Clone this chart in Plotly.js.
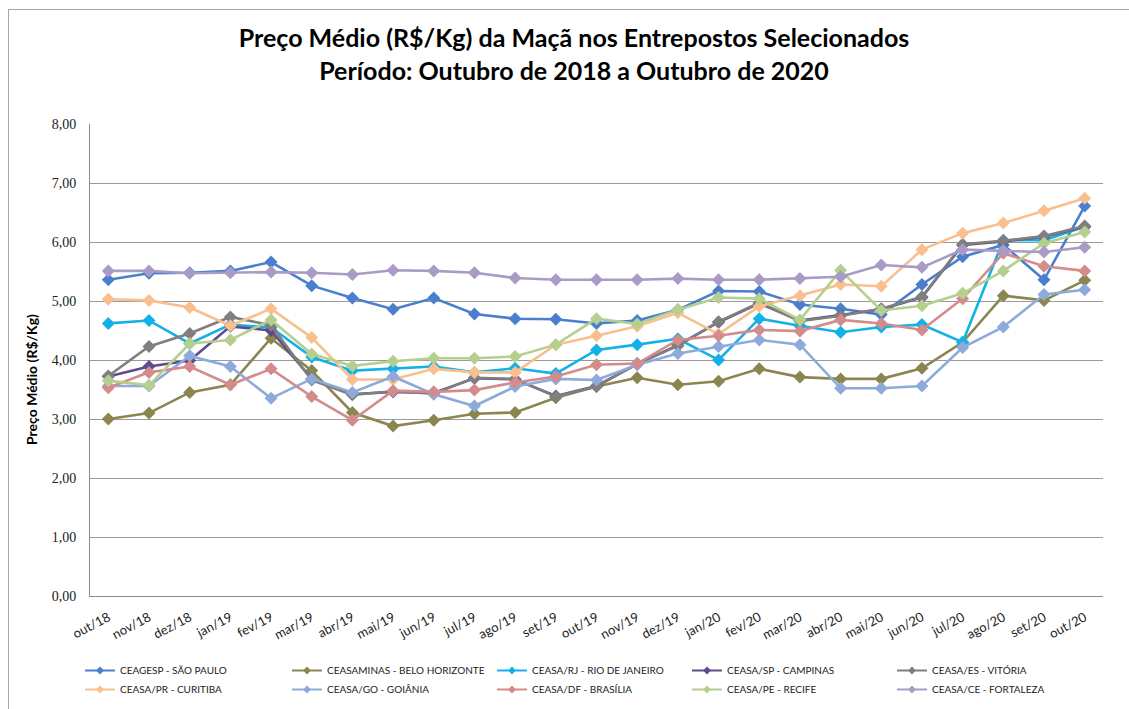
<!DOCTYPE html>
<html>
<head>
<meta charset="utf-8">
<script src="https://cdn.plot.ly/plotly-3.0.1.min.js"></script>
<style>
  html, body { margin: 0; padding: 0; background: #fff; }
  #wrap { position: relative; width: 1129px; height: 709px; overflow: hidden; }
  #frame { position: absolute; left: 8px; top: 9px; width: 1200px; height: 800px; border-left: 1px solid #a6a6a6; border-top: 1px solid #a6a6a6; pointer-events: none; z-index: 5; }
  #chart { position: absolute; left: 0; top: 0; width: 1129px; height: 709px; }
</style>
</head>
<body>
<div id="wrap">
  <div id="chart"></div>
  <div id="frame"></div>
</div>
<script>
const months = ['out/18','nov/18','dez/18','jan/19','fev/19','mar/19','abr/19','mai/19','jun/19','jul/19','ago/19','set/19','out/19','nov/19','dez/19','jan/20','fev/20','mar/20','abr/20','mai/20','jun/20','jul/20','ago/20','set/20','out/20'];

const seriesNames = ['CEAGESP - SÃO PAULO','CEASAMINAS - BELO HORIZONTE','CEASA/RJ - RIO DE JANEIRO','CEASA/SP - CAMPINAS','CEASA/ES - VITÓRIA','CEASA/PR - CURITIBA','CEASA/GO - GOIÂNIA','CEASA/DF - BRASÍLIA','CEASA/PE - RECIFE','CEASA/CE - FORTALEZA'];

const ceagesp   = [5.36,5.47,5.48,5.51,5.66,5.26,5.05,4.86,5.05,4.78,4.70,4.69,4.62,4.67,4.85,5.17,5.16,4.94,4.87,4.77,5.28,5.75,5.95,5.36,6.61];
const bh        = [3.00,3.10,3.45,3.58,4.37,3.82,3.11,2.88,2.98,3.09,3.11,3.36,3.55,3.70,3.58,3.64,3.85,3.71,3.68,3.68,3.86,4.30,5.09,5.01,5.35];
const rj        = [4.62,4.67,4.28,4.60,4.55,4.05,3.82,3.85,3.89,3.79,3.86,3.77,4.17,4.26,4.36,4.00,4.70,4.58,4.47,4.56,4.60,4.30,6.03,6.03,6.26];
const campinas  = [3.72,3.89,3.99,4.57,4.50,3.68,3.42,3.46,3.44,3.69,3.67,3.39,3.56,3.93,4.25,4.64,4.96,4.67,4.76,4.86,5.06,5.95,6.01,6.09,6.26];
const vitoria   = [3.73,4.23,4.45,4.73,4.59,3.66,3.41,3.47,3.43,3.70,3.68,3.38,3.55,3.94,4.24,4.65,4.97,4.66,4.75,4.87,5.07,5.96,6.02,6.10,6.27];
const curitiba  = [5.03,5.01,4.89,4.58,4.87,4.38,3.67,3.67,3.85,3.79,3.79,4.26,4.41,4.57,4.80,4.44,4.91,5.09,5.28,5.25,5.87,6.15,6.32,6.53,6.74];
const goiania   = [3.56,3.56,4.07,3.89,3.35,3.68,3.45,3.72,3.42,3.22,3.55,3.68,3.66,3.92,4.11,4.23,4.34,4.26,3.52,3.52,3.56,4.21,4.56,5.11,5.19];
const brasilia  = [3.53,3.79,3.89,3.58,3.85,3.38,2.98,3.48,3.46,3.49,3.62,3.72,3.92,3.94,4.34,4.41,4.51,4.49,4.68,4.62,4.51,5.04,5.81,5.59,5.51];
const recife    = [3.65,3.57,4.28,4.34,4.68,4.10,3.90,3.98,4.03,4.03,4.06,4.26,4.70,4.61,4.85,5.06,5.04,4.68,5.52,4.84,4.92,5.13,5.51,5.98,6.17];
const fortaleza = [5.51,5.51,5.47,5.48,5.49,5.48,5.45,5.52,5.51,5.48,5.39,5.36,5.36,5.36,5.38,5.36,5.36,5.38,5.41,5.61,5.57,5.87,5.85,5.83,5.91];

const yTicks = [0,1,2,3,4,5,6,7,8];
const yTickText = ['0,00','1,00','2,00','3,00','4,00','5,00','6,00','7,00','8,00'];

const seriesValues = [ceagesp, bh, rj, campinas, vitoria, curitiba, goiania, brasilia, recife, fortaleza];
const colors = ['#4a7fd0','#8b8650','#14b1e7','#5f4a8b','#7f7f7f','#f9bf8f','#8eaadb','#d38b8b','#b5cf8e','#a99bc6'];
const legendOf = ['legend','legend2','legend3','legend4','legend5','legend','legend2','legend3','legend4','legend5'];

const traces = seriesValues.map((vals, i) => ({
  type: 'scatter',
  mode: 'lines+markers',
  name: seriesNames[i],
  x: months,
  y: vals,
  line: {color: colors[i], width: 2.6},
  marker: {symbol: 'diamond', size: 10, color: colors[i]},
  showlegend: false
}));

// legend-only entries (smaller symbols, as in the original legend)
const legendTraces = seriesNames.map((nm, i) => ({
  type: 'scatter',
  mode: 'lines+markers',
  name: nm,
  x: [null],
  y: [null],
  line: {color: colors[i], width: 2},
  marker: {symbol: 'diamond', size: 6, color: colors[i]},
  legend: legendOf[i],
  legendrank: i,
  showlegend: true
}));

const legFont = {family: 'Lato, "Open Sans", sans-serif', size: 10, color: '#222'};
function leg(xpx) {
  return {
    xref: 'container', yref: 'container',
    x: xpx / 1129, y: 1 - 656 / 709,
    xanchor: 'left', yanchor: 'top',
    orientation: 'v',
    font: legFont,
    bgcolor: 'rgba(0,0,0,0)',
    itemwidth: 30,
    tracegroupgap: 0
  };
}

// plot area in pixels: x 90..1103, y 124..596
const plotL = 90, plotR = 1103, plotT = 124, plotB = 596;

const layout = {
  width: 1129, height: 709,
  paper_bgcolor: '#ffffff',
  plot_bgcolor: '#ffffff',
  margin: {l: plotL, r: 1129 - plotR, t: plotT, b: 709 - plotB, autoexpand: false},
  title: {
    text: '<b>Preço Médio (R$/Kg) da Maçã nos Entrepostos Selecionados<br>Período: Outubro de 2018 a Outubro de 2020</b>',
    font: {family: 'Lato, "Open Sans", sans-serif', size: 25, color: '#000'},
    x: 574 / 1129, xref: 'container', xanchor: 'center',
    y: 1 - 47 / 709, yanchor: 'top', yref: 'container'
  },
  xaxis: {
    type: 'category',
    tickangle: -28,
    tickfont: {family: 'Lato, "Open Sans", sans-serif', size: 13, color: '#222'},
    showgrid: false,
    showline: true, linecolor: '#8c8c8c', linewidth: 1,
    ticks: '', zeroline: false,
    ticklabelstandoff: 8,
    range: [-0.45, 24.45]
  },
  yaxis: {
    range: [0, 8],
    tickvals: yTicks,
    ticktext: yTickText,
    tickfont: {family: '"Liberation Serif", "DejaVu Serif", serif', size: 14, color: '#222'},
    showgrid: true, gridcolor: '#9a9a9a', gridwidth: 1,
    showline: true, linecolor: '#8c8c8c', linewidth: 1,
    zeroline: false, ticks: '',
    ticklabelstandoff: 10
  },
  annotations: [{
    text: '<b>Preço Médio (R$/Kg)</b>',
    xref: 'paper', yref: 'paper',
    x: (31 - plotL) / (plotR - plotL), y: (plotB - 380) / (plotB - plotT),
    xanchor: 'center', yanchor: 'middle',
    textangle: -90, showarrow: false,
    font: {family: 'Lato, "Open Sans", sans-serif', size: 14, color: '#000'}
  }],
  showlegend: true,
  legend: leg(80),
  legend2: leg(287),
  legend3: leg(492),
  legend4: leg(687),
  legend5: leg(892),
  hovermode: false
};

Plotly.newPlot('chart', traces.concat(legendTraces), layout, {displayModeBar: false, staticPlot: true});
</script>
</body>
</html>
